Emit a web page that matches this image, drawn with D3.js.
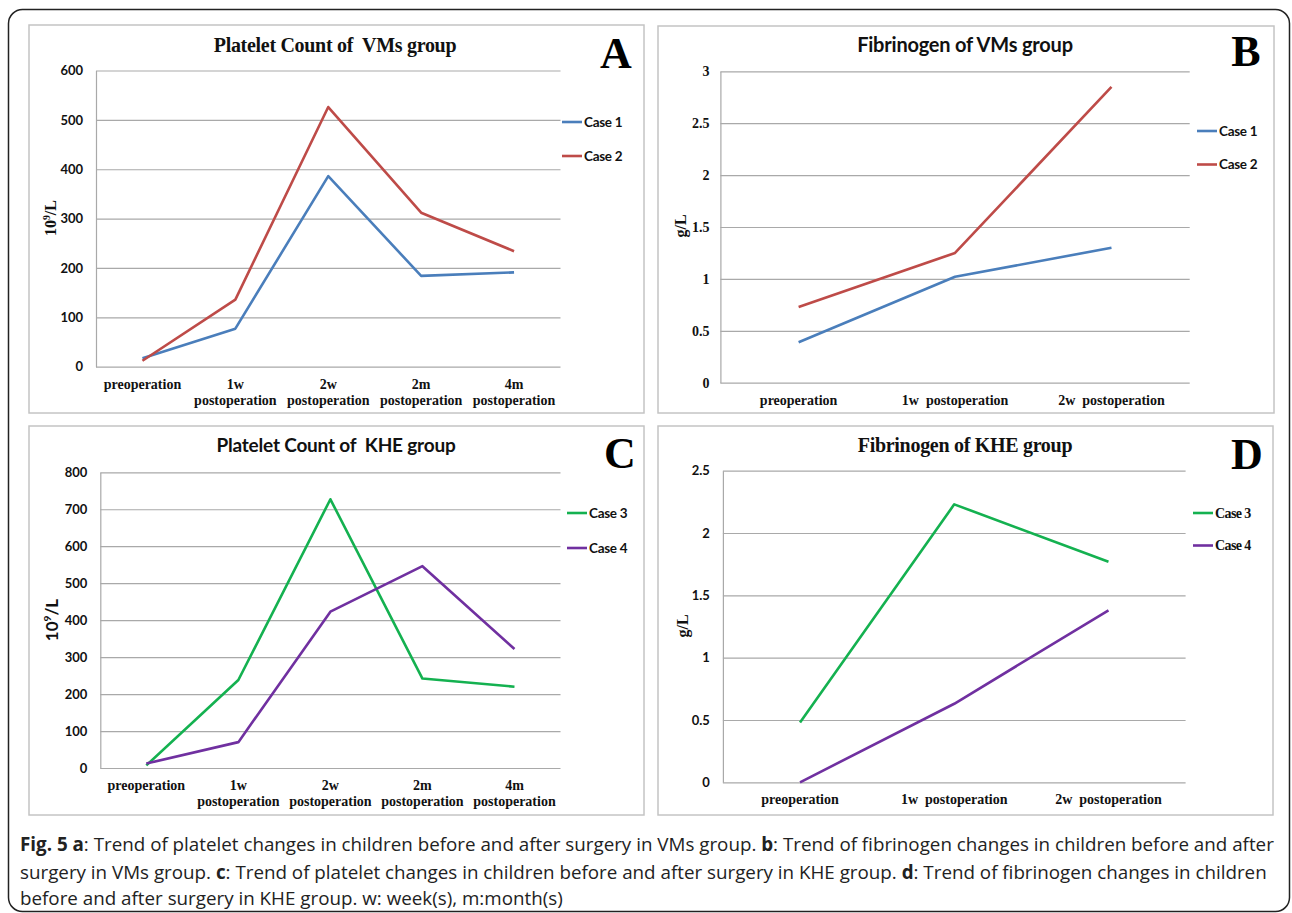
<!DOCTYPE html>
<html>
<head>
<meta charset="utf-8">
<script src="https://cdn.jsdelivr.net/npm/d3@7"></script>
<style>
  body { margin: 0; background: #fff; }
  text { white-space: pre; }
</style>
</head>
<body>
<svg id="chart"></svg>
<script>
// categories
const platCats = ["preoperation", "1w postoperation", "2w postoperation", "2m postoperation", "4m postoperation"];
const fibCats = ["preoperation", "1w  postoperation", "2w  postoperation"];

// values
const case1Plt = [17, 77, 386, 184, 191];
const case2Plt = [12, 136, 526, 312, 234];
const case1Fib = [0.39, 1.02, 1.30];
const case2Fib = [0.73, 1.25, 2.85];
const case3Plt = [7, 238, 727, 242, 220];
const case4Plt = [12, 70, 423, 546, 322];
const case3Fib = [0.48, 2.23, 1.77];
const case4Fib = [0.0, 0.63, 1.38];

// tick labels
const pltTicksA = [0, 100, 200, 300, 400, 500, 600];
const pltTicksC = [0, 100, 200, 300, 400, 500, 600, 700, 800];
const fibTicksB = [0, 0.5, 1, 1.5, 2, 2.5, 3];
const fibTicksD = [0, 0.5, 1, 1.5, 2, 2.5];

const SERIF = "'Liberation Serif', 'Times New Roman', serif";
const SANS = "Lato, 'Open Sans', sans-serif";
const colors = { blue: "#4a7ebb", red: "#be4b48", green: "#14b150", purple: "#7030a0" };

const svg = d3.select("#chart")
  .attr("width", 1292)
  .attr("height", 913);

// outer rounded frame
svg.append("rect")
  .attr("x", 8.5).attr("y", 9.5)
  .attr("width", 1281).attr("height", 902)
  .attr("rx", 14)
  .attr("fill", "none")
  .attr("stroke", "#222")
  .attr("stroke-width", 1.5);

function drawPanel(p) {
  const g = svg.append("g");

  g.append("rect")
    .attr("x", p.box[0]).attr("y", p.box[1])
    .attr("width", p.box[2]).attr("height", p.box[3])
    .attr("fill", "#fff")
    .attr("stroke", "#c4c4c4")
    .attr("stroke-width", 1.5);

  const x = d3.scaleBand().domain(p.cats).range([p.left, p.right]);
  const y = d3.scaleLinear().domain([0, p.ticks[p.ticks.length - 1]]).range([p.bottom, p.top]);
  const cx = d => x(d) + x.bandwidth() / 2;

  // gridlines
  g.append("g")
    .attr("transform", `translate(${p.left},0)`)
    .call(d3.axisLeft(y).tickValues(p.ticks).tickSize(-(p.right - p.left)).tickFormat(""))
    .call(a => a.select(".domain").remove())
    .selectAll("line")
    .attr("stroke", "#a9a9a9")
    .attr("stroke-width", 1.2);

  // y axis
  const yAxis = g.append("g")
    .attr("transform", `translate(${p.left},0)`)
    .call(d3.axisLeft(y).tickValues(p.ticks).tickFormat(d3.format("~g"))
      .tickSize(0).tickSizeOuter(0).tickPadding(p.tickPad));
  yAxis.select(".domain").attr("stroke", "#a9a9a9").attr("stroke-width", 1.2);
  yAxis.selectAll("text")
    .attr("font-family", p.tickFont)
    .attr("font-weight", "bold")
    .attr("font-size", p.tickSize)
    .attr("fill", "#111");

  // x labels
  p.cats.forEach(c => {
    const parts = c.split(/\s+/);
    const t = g.append("text")
      .attr("text-anchor", "middle")
      .attr("font-family", SERIF)
      .attr("font-weight", "bold")
      .attr("font-size", 14)
      .attr("fill", "#111");
    if (p.wrap) {
      t.append("tspan").attr("x", cx(c)).attr("y", p.bottom + 22).text(parts[0]);
      if (parts.length > 1) t.append("tspan").attr("x", cx(c)).attr("y", p.bottom + 38).text(parts.slice(1).join(" "));
    } else {
      t.attr("x", cx(c)).attr("y", p.bottom + 22).text(c);
    }
  });

  // series lines
  const line = d3.line()
    .x((d, i) => cx(p.cats[i]))
    .y(d => y(d));
  p.series.forEach(s => {
    g.append("path")
      .datum(s.values)
      .attr("d", line)
      .attr("fill", "none")
      .attr("stroke", s.color)
      .attr("stroke-width", 2.6)
      .attr("stroke-linejoin", "round");
  });

  // legend
  p.series.forEach((s, i) => {
    const ly = p.legend.y + i * p.legend.gap;
    g.append("line")
      .attr("x1", p.legend.x).attr("x2", p.legend.x + 20)
      .attr("y1", ly).attr("y2", ly)
      .attr("stroke", s.color).attr("stroke-width", 2.6);
    g.append("text")
      .attr("x", p.legend.x + 22).attr("y", ly + 4.5)
      .attr("font-family", p.legendFont)
      .attr("font-weight", "bold")
      .attr("font-size", p.legendFont === SERIF ? 14 : 13.5)
      .attr("letter-spacing", p.legendFont === SERIF ? -0.6 : -0.3)
      .attr("fill", "#111")
      .text(s.name);
  });

  // title
  g.append("text")
    .attr("x", p.title.x).attr("y", p.title.y)
    .attr("text-anchor", "middle")
    .attr("font-family", p.title.font)
    .attr("font-weight", "bold")
    .attr("font-size", p.title.size)
    .attr("letter-spacing", p.title.font === SERIF ? -0.3 : -0.2)
    .attr("fill", "#111")
    .text(p.title.text);

  // panel letter
  g.append("text")
    .attr("x", p.letter.x).attr("y", p.letter.y)
    .attr("text-anchor", "middle")
    .attr("font-family", SERIF)
    .attr("font-weight", "bold")
    .attr("font-size", 44)
    .attr("fill", "#000")
    .text(p.letter.text);

  // y axis label
  const yl = g.append("text")
    .attr("transform", `translate(${p.ylab.x},${p.ylab.y}) rotate(-90)`)
    .attr("text-anchor", "middle")
    .attr("font-family", p.ylab.font)
    .attr("font-weight", "bold")
    .attr("font-size", p.ylab.size)
    .attr("fill", "#111");
  if (p.ylab.sup) {
    yl.append("tspan").text("10");
    yl.append("tspan").attr("dy", -p.ylab.size * 0.4).attr("font-size", p.ylab.size * 0.6).text("9");
    yl.append("tspan").attr("dy", p.ylab.size * 0.4).text("/L");
  } else {
    yl.text("g/L");
  }
}

drawPanel({
  box: [29, 25, 615, 388],
  cats: platCats, wrap: true,
  left: 96, right: 560.5, top: 70.5, bottom: 366.7,
  ticks: pltTicksA, tickPad: 13, tickFont: SANS, tickSize: 13,
  series: [
    { name: "Case 1", values: case1Plt, color: colors.blue },
    { name: "Case 2", values: case2Plt, color: colors.red }
  ],
  legend: { x: 562, y: 122, gap: 34 }, legendFont: SANS,
  title: { text: "Platelet Count of  VMs group", x: 335, y: 52, font: SERIF, size: 20 },
  letter: { text: "A", x: 616, y: 68 },
  ylab: { x: 56, y: 218, font: SERIF, size: 16, sup: true }
});

drawPanel({
  box: [658, 26, 616, 387],
  cats: fibCats, wrap: false,
  left: 720.4, right: 1189.7, top: 71.3, bottom: 382.7,
  ticks: fibTicksB, tickPad: 11, tickFont: SERIF, tickSize: 14,
  series: [
    { name: "Case 1", values: case1Fib, color: colors.blue },
    { name: "Case 2", values: case2Fib, color: colors.red }
  ],
  legend: { x: 1197, y: 131, gap: 33.5 }, legendFont: SANS,
  title: { text: "Fibrinogen of VMs group", x: 965, y: 52, font: SANS, size: 20 },
  letter: { text: "B", x: 1246, y: 66 },
  ylab: { x: 686, y: 226, font: SERIF, size: 16, sup: false }
});

drawPanel({
  box: [29, 426, 615, 389],
  cats: platCats, wrap: true,
  left: 100.3, right: 560.5, top: 472.3, bottom: 768,
  ticks: pltTicksC, tickPad: 13, tickFont: SANS, tickSize: 13,
  series: [
    { name: "Case 3", values: case3Plt, color: colors.green },
    { name: "Case 4", values: case4Plt, color: colors.purple }
  ],
  legend: { x: 567, y: 513, gap: 35 }, legendFont: SANS,
  title: { text: "Platelet Count of  KHE group", x: 336, y: 452, font: SANS, size: 19 },
  letter: { text: "C", x: 620, y: 468 },
  ylab: { x: 58, y: 620, font: SANS, size: 17, sup: true }
});

drawPanel({
  box: [658, 426, 615, 389],
  cats: fibCats, wrap: false,
  left: 722.9, right: 1185.6, top: 470.7, bottom: 782.3,
  ticks: fibTicksD, tickPad: 13, tickFont: SANS, tickSize: 13,
  series: [
    { name: "Case 3", values: case3Fib, color: colors.green },
    { name: "Case 4", values: case4Fib, color: colors.purple }
  ],
  legend: { x: 1193, y: 513, gap: 32.5 }, legendFont: SERIF,
  title: { text: "Fibrinogen of KHE group", x: 965, y: 452, font: SERIF, size: 20 },
  letter: { text: "D", x: 1247, y: 469 },
  ylab: { x: 688, y: 626, font: SERIF, size: 16, sup: false }
});

// caption
const caption = [
  [["Fig. 5 a", true], [": Trend of platelet changes in children before and after surgery in VMs group. ", false], ["b", true], [": Trend of fibrinogen changes in children before and after", false]],
  [["surgery in VMs group. ", false], ["c", true], [": Trend of platelet changes in children before and after surgery in KHE group. ", false], ["d", true], [": Trend of fibrinogen changes in children", false]],
  [["before and after surgery in KHE group. w: week(s), m:month(s)", false]]
];
const capY = [851, 879, 905];
caption.forEach((ln, i) => {
  const t = svg.append("text")
    .attr("x", 20).attr("y", capY[i])
    .attr("font-family", "'Open Sans', sans-serif")
    .attr("font-size", 18.8)
    .attr("fill", "#222");
  ln.forEach(([s, b]) => t.append("tspan").attr("font-weight", b ? "bold" : "normal").text(s));
});
</script>
</body>
</html>
